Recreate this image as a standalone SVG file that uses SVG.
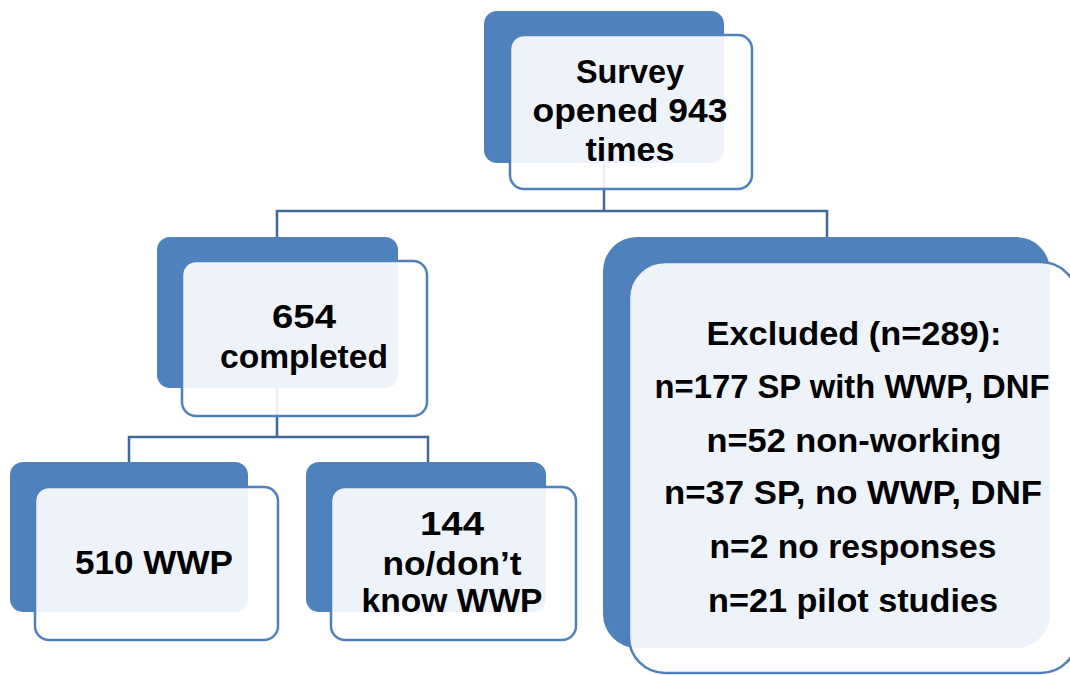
<svg xmlns="http://www.w3.org/2000/svg" width="1070" height="675" viewBox="0 0 1070 675">
<style>
.back{fill:#4F81BD;}
.front{fill:#FFFFFF;fill-opacity:0.9;stroke:#4F81BD;stroke-width:2.5;}
.conn{fill:none;stroke:#41689C;stroke-width:2.5;}
text{font-family:"Liberation Sans",Arial,sans-serif;font-weight:bold;font-size:33px;fill:#000;text-anchor:middle;}
</style>
<rect width="1070" height="675" fill="#FFFFFF"/>
<g id="connectors">
<path class="conn" d="M604,163 V211 M277,237 V211 H827 V237"/>
<path class="conn" d="M277,388 V437 M129,462 V437 H428 V462"/>
</g>
<g id="node-survey">
<rect class="back" x="484" y="11" width="240" height="152" rx="13"/>
<rect class="front" x="510" y="35" width="242" height="154" rx="14"/>
<text x="630" y="83" textLength="108" lengthAdjust="spacingAndGlyphs">Survey</text>
<text x="630" y="122" textLength="195" lengthAdjust="spacingAndGlyphs">opened 943</text>
<text x="630" y="161" textLength="89" lengthAdjust="spacingAndGlyphs">times</text>
</g>
<g id="node-completed">
<rect class="back" x="157" y="237" width="241" height="151" rx="13"/>
<rect class="front" x="182" y="261" width="245" height="155" rx="14"/>
<text x="304" y="328" textLength="64" lengthAdjust="spacingAndGlyphs">654</text>
<text x="304" y="368" textLength="168" lengthAdjust="spacingAndGlyphs">completed</text>
</g>
<g id="node-wwp">
<rect class="back" x="10" y="462" width="238" height="150" rx="13"/>
<rect class="front" x="35" y="487" width="243" height="153" rx="14"/>
<text x="154" y="574" textLength="158" lengthAdjust="spacingAndGlyphs">510 WWP</text>
</g>
<g id="node-nowwp">
<rect class="back" x="306" y="462" width="240" height="150" rx="13"/>
<rect class="front" x="331" y="487" width="245" height="153" rx="14"/>
<text x="452" y="535" textLength="64" lengthAdjust="spacingAndGlyphs">144</text>
<text x="452" y="575" textLength="139" lengthAdjust="spacingAndGlyphs">no/don’t</text>
<text x="452" y="612" textLength="181" lengthAdjust="spacingAndGlyphs">know WWP</text>
</g>
<g id="node-excluded">
<rect class="back" x="603" y="237" width="447" height="411" rx="34"/>
<rect class="front" x="629" y="262" width="448" height="411" rx="36"/>
<text x="854" y="345" textLength="295" lengthAdjust="spacingAndGlyphs">Excluded (n=289):</text>
<text x="852" y="398" textLength="395" lengthAdjust="spacingAndGlyphs">n=177 SP with WWP, DNF</text>
<text x="854" y="452" textLength="295" lengthAdjust="spacingAndGlyphs">n=52 non-working</text>
<text x="853" y="504" textLength="378" lengthAdjust="spacingAndGlyphs">n=37 SP, no WWP, DNF</text>
<text x="853" y="558" textLength="287" lengthAdjust="spacingAndGlyphs">n=2 no responses</text>
<text x="853" y="612" textLength="290" lengthAdjust="spacingAndGlyphs">n=21 pilot studies</text>
</g>
</svg>
